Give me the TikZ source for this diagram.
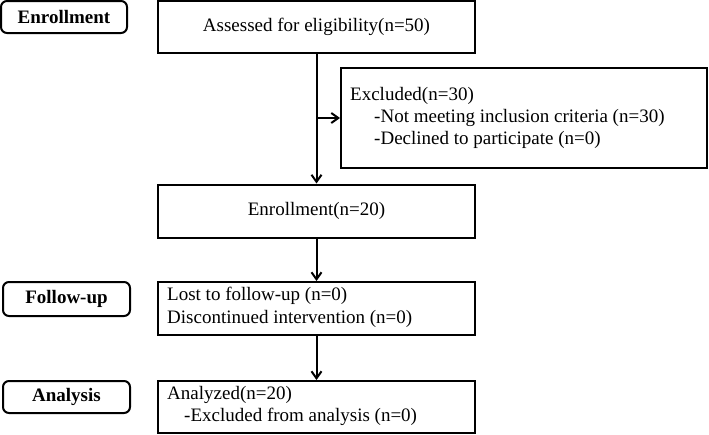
\documentclass[tikz,border=0pt]{standalone}
\usepackage{fontspec}
\setmainfont{Liberation Serif}
\usetikzlibrary{arrows.meta}
\begin{document}
\begin{tikzpicture}[x=1pt,y=-1pt,
  every node/.style={font=\fontsize{19}{22}\selectfont},
  boxnode/.style={draw,line width=2pt,inner sep=0pt,minimum width=317pt,minimum height=52pt,align=center},
  lblnode/.style={draw,line width=2pt,rounded corners=6pt,inner sep=0pt,minimum width=126pt,minimum height=32pt,font=\fontsize{19}{22}\selectfont\bfseries},
  txt/.style={anchor=mid west,inner sep=0pt},
  conn/.style={line width=2pt,-{Straight Barb[length=7pt,width=10pt,line width=2pt]}}]
\useasboundingbox (0,0) rectangle (709,434);
% stage labels
\node[lblnode] (lenr) at (64,17) {Enrollment};
\node[lblnode,minimum width=127pt,minimum height=34pt] (lfol) at (66.5,299) {Follow-up};
\node[lblnode,minimum width=127pt] (lana) at (66.5,397) {Analysis};
% main boxes
\node[boxnode] (assess) at (316.5,27) {Assessed for eligibility(n=50)};
\node[boxnode,minimum width=366pt,minimum height=100pt] (excl) at (524,118) {};
\node[txt] (ex1) at (350,98) {Excluded(n=30)};
\node[txt] (ex2) at (374,120) {-Not meeting inclusion criteria (n=30)};
\node[txt] (ex3) at (374,142) {-Declined to participate (n=0)};
\node[boxnode,minimum height=53pt] (enr) at (316.5,211) {Enrollment(n=20)};
\node[boxnode,minimum height=53pt] (fol) at (316.5,308.5) {};
\node[txt] (fo1) at (167,298) {Lost to follow-up (n=0)};
\node[txt] (fo2) at (167,321) {Discontinued intervention (n=0)};
\node[boxnode] (ana) at (316.5,407) {};
\node[txt] (an1) at (167,397) {Analyzed(n=20)};
\node[txt] (an2) at (184,419) {-Excluded from analysis (n=0)};
% connectors
\draw[conn] (assess.south) -- (enr.north);
\coordinate (br) at (assess.south |- excl.west);
\draw[conn] (br) -- (excl.west);
\draw[conn] (enr.south) -- (fol.north);
\draw[conn] (fol.south) -- (ana.north);
\end{tikzpicture}
\end{document}
